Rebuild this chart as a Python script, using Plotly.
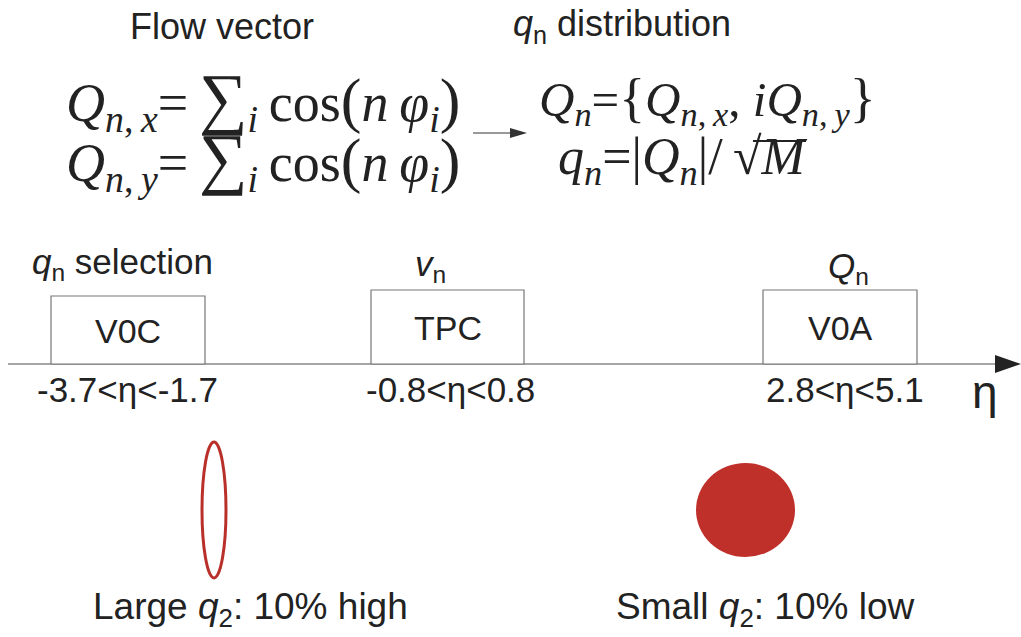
import plotly.graph_objects as go

# Detector setup along the pseudorapidity axis
detectors = ["V0C", "TPC", "V0A"]
eta_ranges = ["-3.7<η<-1.7", "-0.8<η<0.8", "2.8<η<5.1"]
roles = ["<i>q</i><sub>n</sub> selection", "<i>v</i><sub>n</sub>", "<i>Q</i><sub>n</sub>"]
event_classes = ["Large <i>q</i><sub>2</sub>: 10% high", "Small <i>q</i><sub>2</sub>: 10% low"]

# Layout geometry (pixel canvas)
W, H = 1021, 637
box_x = [(51, 205), (371, 524), (763, 917)]
box_top = [296, 290, 290]
axis_y = 364
role_xy = [(122, 264), (430, 266), (848, 268)]
range_x = [127, 450, 845]
class_x = [250, 765]

SANS = "Liberation Sans"
SERIF = "Liberation Serif"
INK = "#222222"
RED = "#b9302a"
TH = "\u2009"  # thin space

fig = go.Figure()
fig.add_trace(go.Scatter(x=[0, W], y=[0, H], mode="markers",
                         marker=dict(opacity=0), hoverinfo="skip", showlegend=False))

shapes = []
ann = []

def text(x, y, s, size, font=SANS, xanchor="center", color=INK):
    ann.append(dict(x=x, y=y, xref="x", yref="y", text=s, showarrow=False,
                    xanchor=xanchor, yanchor="middle",
                    font=dict(family=font, size=size, color=color)))

# Headings
text(222, 26, "Flow vector", 36)
text(622, 26, "<i>q</i><sub>n</sub> distribution", 36)

# Flow-vector formulas
def big(s, px):
    return f"<span style='font-size:{px}px'>{s}</span>"

def flow(comp):
    return (f"<i>Q</i><sub><i>n</i>,{TH}<i>{comp}</i></sub>={TH}" + big("∑", 68)
            + f"<sub><i>i</i></sub>{TH}cos" + big("(", 62)
            + f"<i>n</i>{TH}<i>φ</i><sub><i>i</i></sub>" + big(")", 62))

text(64, 100, flow("x"), 54, SERIF, "left")
text(64, 160, flow("y"), 54, SERIF, "left")

f3 = ("<i>Q</i><sub><i>n</i></sub>=" + big("{", 54)
      + f"<i>Q</i><sub><i>n</i>,{TH}<i>x</i></sub>, <i>iQ</i><sub><i>n</i>,{TH}<i>y</i></sub>"
      + big("}", 54))
f4 = f"<i>q</i><sub><i>n</i></sub>=|<i>Q</i><sub><i>n</i></sub>|/{TH}√<i>M</i>"
text(537, 100, f3, 49, SERIF, "left")
text(556, 160, f4, 52, SERIF, "left")
# vinculum of the square root
shapes.append(dict(type="line", xref="x", yref="y", x0=753, x1=806, y0=141, y1=141,
                   line=dict(color=INK, width=2)))

# Arrow between formula blocks
shapes.append(dict(type="line", xref="x", yref="y", x0=473, x1=512, y0=133, y1=133,
                   line=dict(color="#777777", width=1.5)))
shapes.append(dict(type="path", xref="x", yref="y", path="M 510 128 L 527 133 L 510 138 Z",
                   fillcolor="#333333", line=dict(width=0)))

# Eta axis
shapes.append(dict(type="line", xref="x", yref="y", x0=8, x1=996, y0=axis_y, y1=axis_y,
                   line=dict(color="#888888", width=1.5)))
shapes.append(dict(type="path", xref="x", yref="y",
                   path=f"M 995 {axis_y-9} L 1021 {axis_y} L 995 {axis_y+9} Z",
                   fillcolor="#222222", line=dict(width=0)))
text(985, 392, "η", 46)

# Detector boxes, labels and acceptance ranges
for i, name in enumerate(detectors):
    x0, x1 = box_x[i]
    shapes.append(dict(type="rect", xref="x", yref="y", x0=x0, x1=x1, y0=box_top[i], y1=axis_y,
                       line=dict(color="#777777", width=1.2), fillcolor="white"))
    text((x0 + x1) / 2, (box_top[i] + axis_y) / 2 + 1, name, 34)
    text(range_x[i], 389, eta_ranges[i], 35)
    text(role_xy[i][0], role_xy[i][1], roles[i], 35)

# Event shapes: elongated (large q2) and round (small q2)
shapes.append(dict(type="circle", xref="x", yref="y", x0=202, x1=226, y0=442, y1=578,
                   line=dict(color=RED, width=3), fillcolor="white"))
shapes.append(dict(type="circle", xref="x", yref="y", x0=696, x1=795, y0=463, y1=557,
                   line=dict(color=RED, width=0), fillcolor="#c0302b"))
for i, lab in enumerate(event_classes):
    text(class_x[i], 609, lab, 37)

fig.update_layout(
    width=W, height=H, margin=dict(l=0, r=0, t=0, b=0),
    paper_bgcolor="white", plot_bgcolor="white",
    xaxis=dict(range=[0, W], visible=False, fixedrange=True),
    yaxis=dict(range=[H, 0], visible=False, fixedrange=True),
    shapes=shapes, annotations=ann, showlegend=False,
)
fig.write_html("out.html", config={"displayModeBar": False})
